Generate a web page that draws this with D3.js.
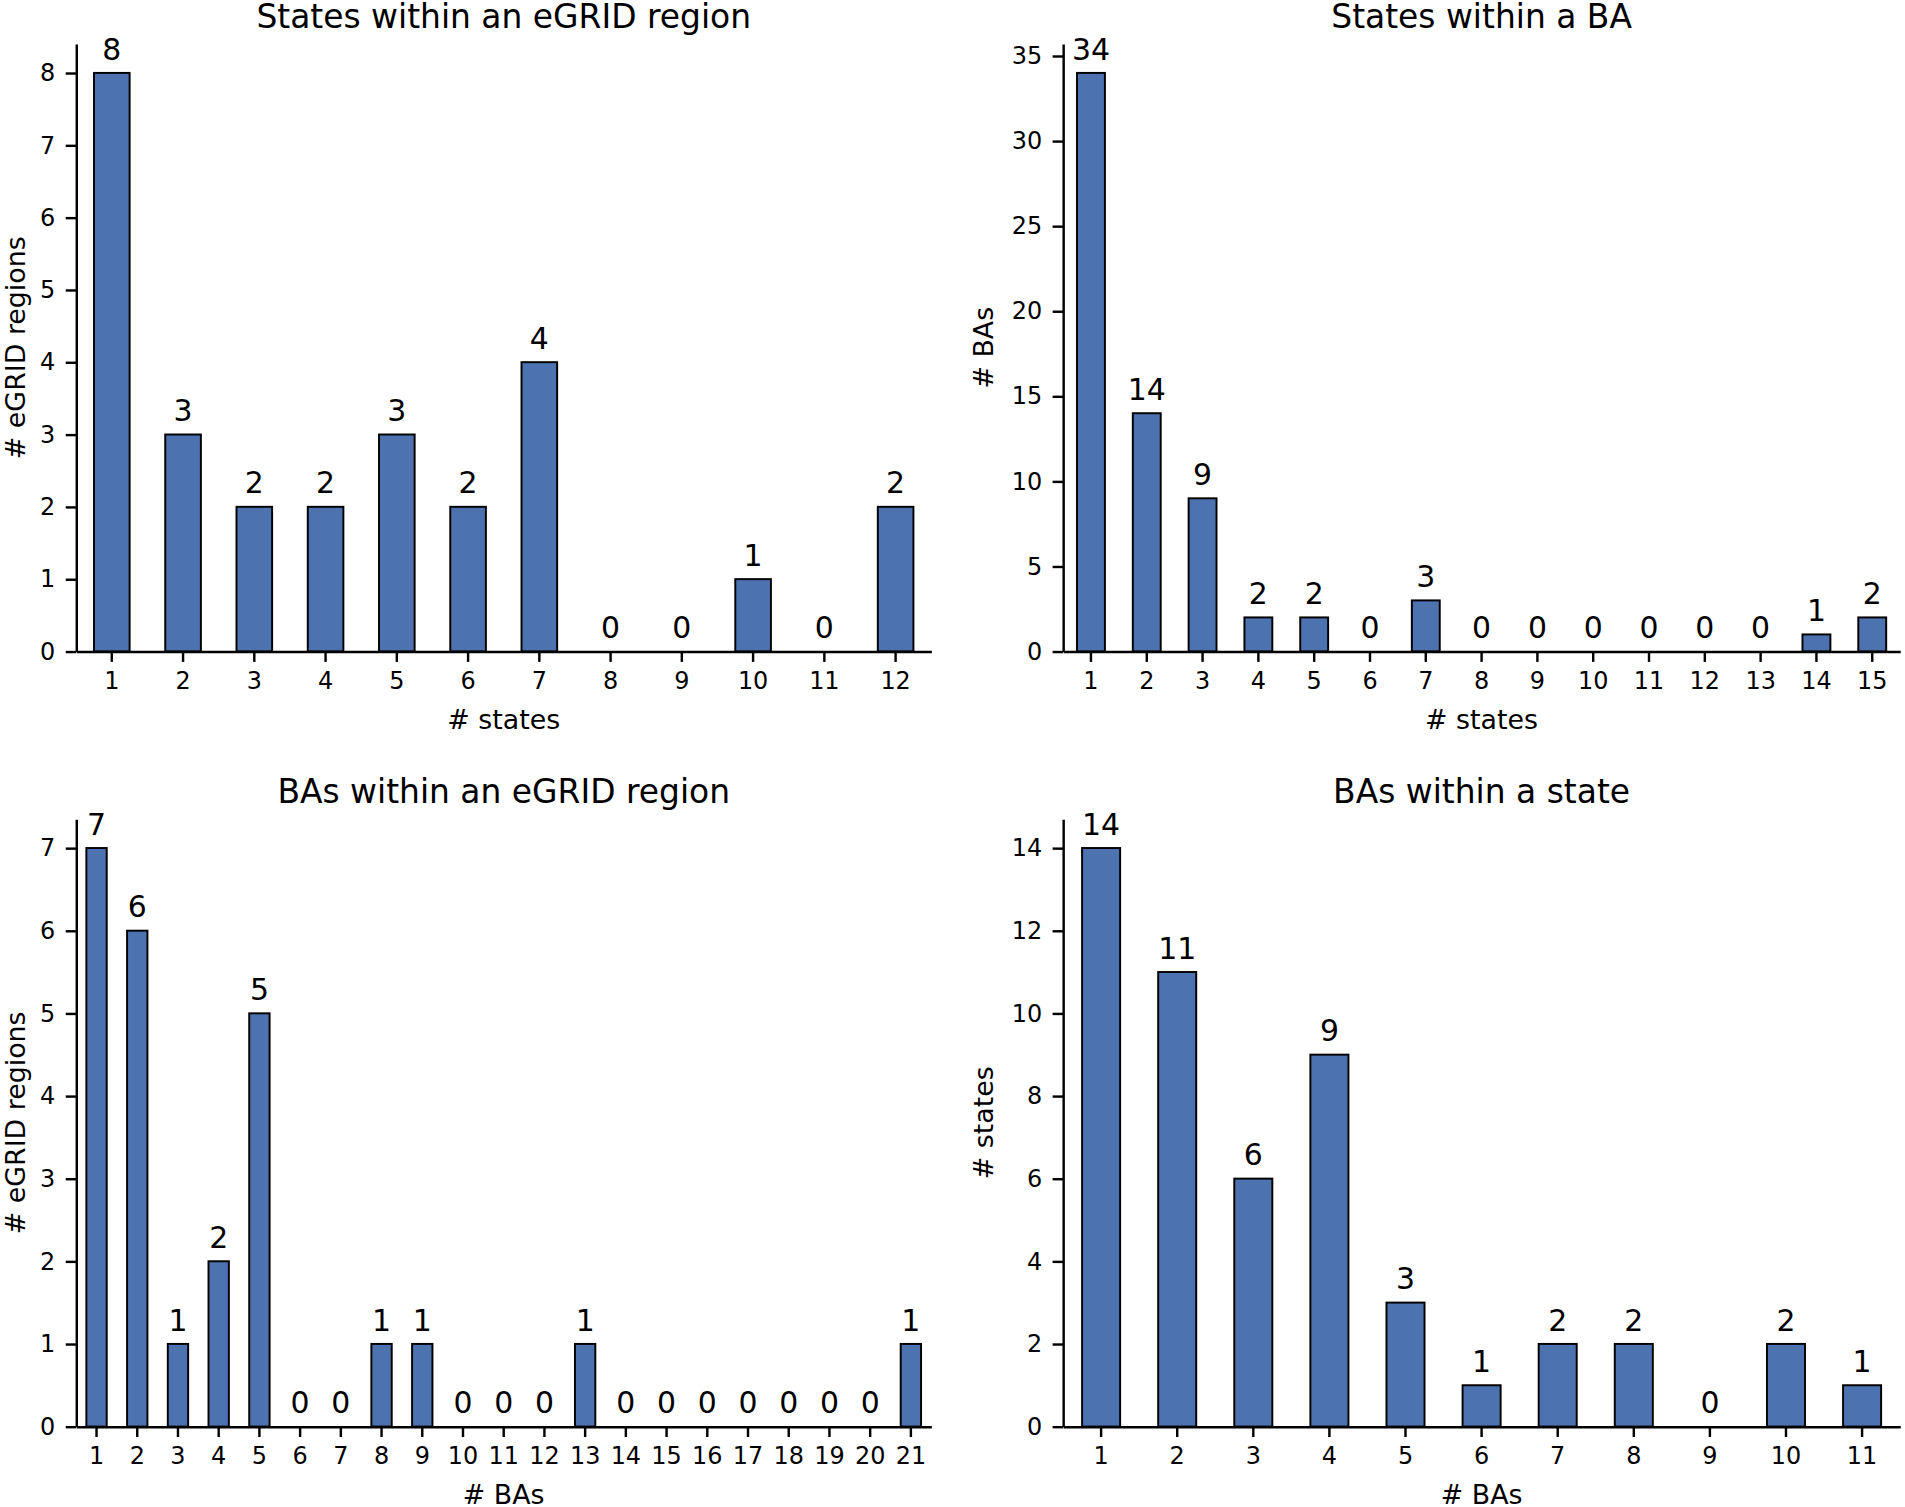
<!DOCTYPE html>
<html>
<head>
<meta charset="utf-8">
<script src="https://cdn.jsdelivr.net/npm/d3@7"></script>
<style>
  body { margin: 0; background: #fff; }
  svg text { font-family: "DejaVu Sans", sans-serif; fill: #000; }
</style>
</head>
<body>
<div id="chart"></div>
<script>
// counts per panel (category = 1..n)
const statesPerRegion = [8, 3, 2, 2, 3, 2, 4, 0, 0, 1, 0, 2];
const statesPerBA = [34, 14, 9, 2, 2, 0, 3, 0, 0, 0, 0, 0, 0, 1, 2];
const basPerRegion = [7, 6, 1, 2, 5, 0, 0, 1, 1, 0, 0, 0, 1, 0, 0, 0, 0, 0, 0, 0, 1];
const basPerState = [14, 11, 6, 9, 3, 1, 2, 2, 0, 2, 1];

const titles = ["States within an eGRID region", "States within a BA", "BAs within an eGRID region", "BAs within a state"];
const xLabels = ["# states", "# states", "# BAs", "# BAs"];
const yLabels = ["# eGRID regions", "# BAs", "# eGRID regions", "# states"];
const yTicks = [
  [0, 1, 2, 3, 4, 5, 6, 7, 8],
  [0, 5, 10, 15, 20, 25, 30, 35],
  [0, 1, 2, 3, 4, 5, 6, 7],
  [0, 2, 4, 6, 8, 10, 12, 14]
];

const W = 1568, H = 1240;
const barColor = "#4c72b0";
const tickFont = 19.7, labelFont = 22.1, annotFont = 24.6, titleFont = 27.1;

const svg = d3.select("#chart").append("svg")
  .attr("width", 1905)
  .attr("height", 1507)
  .attr("viewBox", `0 0 ${W} ${H}`);

// panel boxes [left, right, top, bottom]
const boxes = [
  [62.7, 766.5, 36, 536],
  [875, 1564, 36, 536],
  [62.7, 766.5, 674, 1174],
  [875, 1564, 674, 1174]
];
const yLabelX = [20.5, 817, 20.5, 817];
const series = [statesPerRegion, statesPerBA, basPerRegion, basPerState];

series.forEach((vals, i) => {
  const [l, r, t, b] = boxes[i];
  const cats = vals.map((_, k) => String(k + 1));
  const max = d3.max(vals);

  const x = d3.scaleBand()
    .domain(cats)
    .range([l, r])
    .paddingInner(0.5)
    .paddingOuter(0.25);

  const y = d3.scaleLinear()
    .domain([0, max * 1.05])
    .range([b, t]);

  const g = svg.append("g");

  // bars
  g.selectAll("rect.bar")
    .data(vals)
    .enter()
    .append("rect")
    .attr("class", "bar")
    .attr("x", (d, k) => x(cats[k]))
    .attr("y", d => y(d))
    .attr("width", x.bandwidth())
    .attr("height", d => y(0) - y(d))
    .attr("fill", barColor)
    .attr("stroke", "#000")
    .attr("stroke-width", 1.6);

  // value labels
  g.selectAll("text.val")
    .data(vals)
    .enter()
    .append("text")
    .attr("class", "val")
    .attr("x", (d, k) => x(cats[k]) + x.bandwidth() / 2)
    .attr("y", d => y(d) - 11)
    .attr("text-anchor", "middle")
    .style("font-size", annotFont + "px")
    .text(d => d);

  // axes
  const xAxis = g.append("g")
    .attr("transform", `translate(0,${b})`)
    .call(d3.axisBottom(x).tickSize(8.6).tickPadding(8.6).tickSizeOuter(0));
  const yAxis = g.append("g")
    .attr("transform", `translate(${l},0)`)
    .call(d3.axisLeft(y).tickValues(yTicks[i]).tickSize(8.6).tickPadding(8.6).tickSizeOuter(0));

  [xAxis, yAxis].forEach(a => {
    a.attr("font-family", null).attr("font-size", null);
    a.selectAll("path, line").attr("stroke", "#000").attr("stroke-width", 2);
    a.selectAll("text").style("font-size", tickFont + "px");
  });

  // title
  g.append("text")
    .attr("x", (l + r) / 2)
    .attr("y", t - 13.5)
    .attr("text-anchor", "middle")
    .style("font-size", titleFont + "px")
    .text(titles[i]);

  // x label
  g.append("text")
    .attr("x", (l + r) / 2)
    .attr("y", b + 64)
    .attr("text-anchor", "middle")
    .style("font-size", labelFont + "px")
    .text(xLabels[i]);

  // y label
  g.append("text")
    .attr("transform", `translate(${yLabelX[i]},${(t + b) / 2}) rotate(-90)`)
    .attr("text-anchor", "middle")
    .style("font-size", labelFont + "px")
    .text(yLabels[i]);
});
</script>
</body>
</html>
